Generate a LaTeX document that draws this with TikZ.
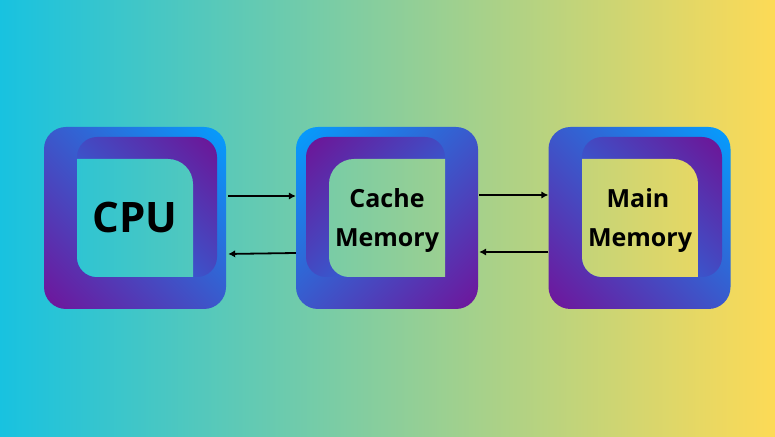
\documentclass[tikz,border=0pt]{standalone}
\usepackage{fontspec}
\setmainfont{Open Sans}
\usetikzlibrary{arrows.meta}
\definecolor{bgL}{RGB}{24,194,224}
\definecolor{bgR}{RGB}{253,218,86}
\definecolor{obBlue}{RGB}{4,158,254}
\definecolor{obPurple}{RGB}{112,20,154}
\definecolor{ifPurple}{RGB}{110,20,150}
\definecolor{ifBlue}{RGB}{22,130,240}
\pgfdeclareverticalshading{outershade}{100bp}{color(0bp)=(obPurple); color(14.64bp)=(obPurple); color(85.36bp)=(obBlue); color(100bp)=(obBlue)}
\pgfdeclareverticalshading{frameshade}{100bp}{color(0bp)=(ifBlue); color(14.64bp)=(ifBlue); color(85.36bp)=(ifPurple); color(100bp)=(ifPurple)}
\begin{document}
\begin{tikzpicture}[x=1pt,y=1pt,
  outerbox/.style={rectangle, rounded corners=22pt, minimum width=182pt, minimum height=182pt, inner sep=0pt, shade, shading=outershade},
  outerR/.style={outerbox, shading angle=-45},
  outerL/.style={outerbox, shading angle=45},
  frameR/.style={rounded corners=20pt, shading=frameshade, shading angle=-45},
  frameL/.style={rounded corners=20pt, shading=frameshade, shading angle=45},
  bigtxt/.style={font=\fontsize{42}{50}\selectfont\bfseries, text=black, anchor=base, inner sep=0pt},
  labtxt/.style={font=\fontsize{25}{30}\selectfont\bfseries, text=black, anchor=base, inner sep=0pt},
  arr/.style={line width=1.8pt, -{Latex[length=7pt,width=7.5pt]}}
]
\useasboundingbox (0,0) rectangle (775,436);
% background
\shade[left color=bgL, right color=bgR] (0,0) rectangle (775,436);

% outer boxes
\node[outerR] (cpu) at (135,218) {};
\node[outerL] (cache) at (387,218) {};
\node[outerR] (main) at (639.5,218) {};

% inner frames
\shade[frameR] (77,159) rectangle (217,299);
\shade[frameL] (306,159) rectangle (445,299);
\shade[frameR] (582,159) rectangle (722,299);

% inner windows showing the background
\begin{scope}
  \clip (77,277) -- (168,277) arc[start angle=90, end angle=0, radius=25] -- (193,159) -- (97,159) arc[start angle=270, end angle=180, radius=20] -- cycle;
  \shade[left color=bgL, right color=bgR] (0,0) rectangle (775,436);
\end{scope}
\begin{scope}
  \clip (445,277) -- (354,277) arc[start angle=90, end angle=180, radius=25] -- (329,179) arc[start angle=180, end angle=270, radius=20] -- (445,159) -- cycle;
  \shade[left color=bgL, right color=bgR] (0,0) rectangle (775,436);
\end{scope}
\begin{scope}
  \clip (582,277) -- (673,277) arc[start angle=90, end angle=0, radius=25] -- (698,159) -- (602,159) arc[start angle=270, end angle=180, radius=20] -- cycle;
  \shade[left color=bgL, right color=bgR] (0,0) rectangle (775,436);
\end{scope}

% texts
\node[bigtxt] (cpuT) at (135,203) {CPU};
\node[labtxt] (cacheT1) at (387,228) {Cache};
\node[labtxt] (cacheT2) at (387,189) {Memory};
\node[labtxt] (mainT1) at (638,228) {Main};
\node[labtxt] (mainT2) at (640,189) {Memory};

% connectors
\draw[arr, shorten <=2pt] ([yshift=22pt]cpu.east) -- ([yshift=22pt]cache.west);
\draw[arr, shorten >=2pt] ([yshift=-35pt]cache.west) -- ([yshift=-36pt]cpu.east);
\draw[arr, shorten <=1pt] ([yshift=23pt]cache.east) -- ([yshift=23pt]main.west);
\draw[arr, shorten >=1pt] ([yshift=-34pt]main.west) -- ([yshift=-34pt]cache.east);
\end{tikzpicture}
\end{document}
